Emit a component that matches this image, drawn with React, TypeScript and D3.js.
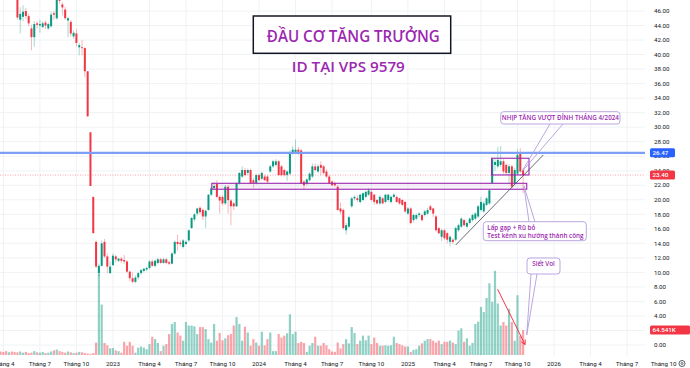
import React, { useEffect, useRef } from 'react';
import * as d3 from 'd3';

const W = 690, H = 368;
const PLOT_R = 645, PLOT_B = 356;

// weekly bars, first one = week of 28/03/2022. [open, high, low, close]
const candles: [number, number, number, number][] = [
  [52.0, 53.0, 50.2, 51.0], [51.0, 52.4, 49.6, 50.0], [50.0, 51.0, 48.6, 49.8], [49.8, 51.2, 48.8, 50.6],
  [50.6, 51.2, 48.6, 49.0], [49.0, 49.8, 48.2, 48.6],
  [48.5, 49.0, 44.8, 45.1], [44.8, 46.5, 42.9, 45.6], [45.2, 46.8, 44.6, 45.9], [46.0, 46.4, 44.9, 45.3],
  [45.3, 45.6, 43.9, 44.3], [43.6, 44.1, 40.6, 42.4], [42.4, 44.6, 41.1, 44.2], [44.3, 44.6, 43.6, 44.1],
  [44.0, 44.8, 43.0, 44.2], [43.8, 44.6, 43.6, 44.3], [44.4, 44.7, 43.5, 44.0], [43.6, 44.4, 43.4, 44.2],
  [43.9, 45.9, 43.7, 45.5], [45.7, 46.0, 44.8, 45.5], [45.0, 49.0, 44.8, 48.0], [48.0, 49.0, 47.0, 47.4],
  [46.9, 47.2, 45.4, 46.5], [46.2, 46.6, 44.8, 45.0], [44.7, 45.2, 42.4, 45.0], [44.5, 44.8, 42.5, 42.9],
  [42.5, 43.3, 42.2, 43.0], [42.9, 43.5, 41.1, 41.6], [41.0, 41.6, 39.9, 41.3], [41.0, 42.0, 39.9, 40.9],
  [40.9, 41.0, 36.9, 37.7], [37.7, 37.7, 31.4, 31.5], [29.3, 29.3, 21.9, 21.9], [20.4, 20.4, 15.4, 15.4],
  [14.2, 14.4, 10.6, 10.8], [9.9, 11.2, 9.4, 10.9], [10.9, 14.4, 10.8, 14.0], [14.2, 14.6, 12.0, 12.2],
  [12.2, 12.6, 9.9, 10.8], [9.9, 11.5, 9.8, 10.8], [11.0, 12.6, 10.9, 12.3], [12.2, 12.4, 11.4, 11.8],
  [11.6, 12.0, 11.4, 11.9], [11.9, 12.1, 11.3, 11.6], [11.7, 12.4, 11.2, 11.5], [11.5, 11.7, 9.9, 10.1],
  [10.1, 10.2, 8.8, 9.2], [9.2, 10.0, 8.5, 8.7], [8.7, 9.6, 8.5, 9.3], [9.3, 10.1, 9.0, 9.9],
  [9.9, 10.5, 9.7, 10.3], [10.2, 10.6, 10.0, 10.5], [10.4, 10.8, 10.2, 10.6], [10.6, 11.7, 10.4, 11.5],
  [11.5, 11.8, 10.8, 10.9], [10.9, 11.8, 10.7, 11.6], [11.3, 12.0, 11.1, 11.8], [11.8, 12.0, 11.2, 11.3],
  [11.3, 12.0, 11.2, 11.8], [11.8, 12.0, 11.1, 11.3], [11.4, 11.6, 11.0, 11.2], [11.2, 12.8, 11.1, 12.6],
  [12.6, 14.4, 12.4, 14.2], [14.2, 15.2, 13.0, 13.9], [14.1, 14.4, 13.6, 13.9], [13.5, 14.6, 13.3, 14.4],
  [13.9, 14.4, 13.7, 14.2], [14.4, 15.9, 14.2, 15.8], [16.1, 17.6, 16.0, 17.5], [17.3, 18.2, 17.0, 18.0],
  [18.1, 18.9, 17.8, 18.8], [18.9, 19.1, 18.0, 18.3], [18.6, 18.8, 17.2, 17.7], [17.7, 18.6, 16.1, 18.5],
  [18.6, 20.8, 18.5, 20.7], [20.7, 21.8, 20.5, 21.6], [21.6, 22.4, 21.3, 21.9], [22.2, 22.7, 20.2, 20.4],
  [20.4, 20.6, 18.1, 19.9], [20.4, 20.6, 19.2, 19.5], [19.5, 22.0, 19.3, 21.8], [21.8, 22.0, 18.1, 19.95],
  [19.9, 20.1, 16.5, 19.1], [19.5, 19.7, 18.6, 19.1], [19.1, 22.4, 19.0, 22.3], [22.3, 23.8, 22.1, 23.7],
  [23.2, 24.6, 23.0, 24.1], [24.1, 24.4, 23.2, 23.4], [23.7, 24.3, 23.4, 24.1], [24.1, 24.3, 22.2, 22.3],
  [22.7, 23.0, 21.6, 22.3], [22.3, 23.6, 22.1, 23.4], [23.4, 23.6, 22.6, 22.7], [22.9, 23.9, 22.7, 23.7],
  [23.2, 23.5, 22.6, 22.7], [23.2, 23.4, 22.3, 22.5], [23.9, 24.8, 23.7, 24.6], [24.6, 25.5, 24.4, 25.3],
  [24.8, 25.6, 24.6, 25.3], [25.3, 25.5, 23.3, 23.4], [24.6, 24.8, 23.2, 23.4], [24.1, 24.3, 23.2, 23.4],
  [23.4, 24.0, 22.6, 23.9], [23.6, 26.8, 23.4, 26.4], [26.4, 27.4, 26.2, 26.9], [26.5, 28.3, 26.3, 26.9],
  [26.9, 27.3, 26.2, 26.6], [26.8, 27.0, 22.2, 22.3], [22.5, 22.7, 21.4, 22.0], [22.2, 23.0, 22.0, 22.8],
  [22.7, 23.8, 22.5, 23.6], [23.2, 25.0, 23.0, 24.6], [24.6, 25.0, 23.9, 24.1], [23.9, 24.9, 23.7, 24.6],
  [24.8, 25.3, 23.4, 24.4], [24.6, 24.8, 23.5, 23.7], [23.9, 24.2, 23.0, 23.2], [23.2, 23.4, 22.2, 22.3],
  [22.5, 22.7, 21.9, 22.0], [22.3, 22.5, 21.8, 22.0], [21.8, 22.0, 18.5, 18.6], [18.8, 19.6, 18.0, 18.4],
  [18.6, 18.8, 15.9, 16.1], [15.8, 16.8, 15.2, 16.5], [16.3, 17.8, 16.1, 17.6], [19.1, 20.4, 18.9, 20.2],
  [20.2, 20.6, 19.9, 20.4], [20.2, 20.6, 19.7, 19.97], [19.7, 20.8, 19.5, 20.7], [19.97, 21.0, 19.8, 20.9],
  [20.4, 21.2, 20.2, 21.1], [20.7, 21.6, 20.5, 21.3], [21.1, 21.3, 19.8, 19.97], [20.7, 20.8, 19.3, 19.7],
  [19.97, 20.1, 19.3, 19.5], [19.5, 20.6, 19.3, 20.4], [20.2, 20.4, 19.4, 19.5], [19.7, 20.8, 19.5, 20.7],
  [19.97, 20.8, 19.7, 20.7], [19.7, 20.6, 19.5, 20.4], [20.4, 20.9, 20.2, 20.7], [20.4, 20.6, 19.6, 19.7],
  [20.2, 20.3, 19.3, 19.5], [19.97, 20.1, 19.1, 19.3], [19.7, 19.8, 18.2, 18.4], [18.1, 19.0, 17.9, 18.8],
  [18.8, 19.0, 16.6, 16.8], [17.2, 18.1, 16.9, 17.9], [17.4, 18.1, 17.2, 17.9], [17.9, 18.3, 17.6, 18.1],
  [17.9, 18.1, 17.0, 17.2], [17.9, 18.6, 17.7, 18.4], [18.1, 18.9, 17.9, 18.6], [19.1, 19.3, 18.4, 18.6],
  [18.8, 18.9, 17.6, 18.1], [17.7, 17.9, 15.6, 15.8], [16.1, 16.3, 15.2, 15.4], [14.9, 16.0, 14.3, 15.8],
  [15.8, 16.0, 14.5, 14.7], [15.4, 15.6, 14.0, 14.5], [14.2, 15.1, 13.6, 14.9], [14.5, 14.7, 13.9, 14.2],
  [14.5, 16.3, 14.3, 16.1], [15.8, 16.7, 15.6, 16.5], [16.3, 17.6, 16.1, 17.4], [17.2, 17.4, 16.3, 16.5],
  [16.3, 17.0, 16.1, 16.8], [16.8, 17.6, 16.6, 17.4], [17.2, 18.1, 17.0, 17.9], [17.4, 18.3, 17.2, 18.1],
  [17.7, 19.3, 17.5, 19.1], [18.6, 20.4, 18.4, 19.7], [18.4, 19.8, 18.2, 19.5], [19.3, 20.4, 19.1, 20.2],
  [19.5, 21.5, 19.3, 21.3], [22.3, 25.8, 22.2, 25.6], [24.8, 25.6, 24.0, 25.2], [24.6, 27.3, 24.3, 25.5],
  [24.8, 27.4, 24.5, 25.3], [25.3, 25.6, 23.6, 23.9], [24.8, 25.0, 23.5, 23.7], [23.7, 24.9, 22.3, 24.6],
  [24.6, 24.8, 21.6, 21.8], [22.3, 24.4, 22.0, 24.1], [23.6, 27.0, 23.4, 26.2], [26.4, 27.1, 23.7, 23.9],
  [24.1, 24.3, 20.9, 23.4],
];

// weekly volume, thousand shares
const volumes = [
  9, 8, 10, 7, 9, 8,
  7, 9, 6, 8, 5, 6, 10, 7, 6, 8, 5, 6, 9, 12, 14, 10, 8, 6, 9, 7, 5, 6, 8, 7, 5,
  4, 3, 5, 32, 210,
  130, 31, 25, 17, 18, 12, 10, 6, 34, 24,
  34, 24, 6, 19, 22, 19, 15, 28, 47, 41,
  31, 10, 24, 28,
  54, 80, 85, 58, 50, 37, 85, 76, 76, 74, 54, 72, 72, 67, 41, 32, 80, 37, 57, 38, 43, 51,
  54, 76, 98, 80, 37, 73, 58, 24, 41, 32, 24, 60, 25, 41, 58, 10, 10, 54, 45, 50, 56,
  105, 54, 60, 31, 34, 31, 8, 24, 31, 47, 24, 24, 31, 25, 15, 9, 8,
  32, 17, 28, 41, 30, 72, 57, 28, 37, 50, 38, 50, 28, 45, 31, 24, 24,
  25, 24, 25, 47, 31, 28, 25, 22, 22, 8, 13, 15, 24, 30, 37, 41, 41, 37, 32, 37, 28, 34, 34, 37, 32, 28,
  63, 69, 34, 43, 24, 31, 80, 86, 124, 111, 147, 185, 137, 217, 133, 76, 85, 76, 119, 85, 37, 154, 50, 64.5,
];

const priceTicks = [0, 2, 4, 6, 8, 10, 12, 14, 16, 18, 20, 22, 24, 26, 28, 30, 32, 34, 36, 38, 40, 42, 44, 46];
// [year, month (0-based), label]
const timeTicks: [number, number, string][] = [
  [2022, 3, 'Tháng 4'], [2022, 6, 'Tháng 7'], [2022, 9, 'Tháng 10'], [2023, 0, '2023'],
  [2023, 3, 'Tháng 4'], [2023, 6, 'Tháng 7'], [2023, 9, 'Tháng 10'], [2024, 0, '2024'],
  [2024, 3, 'Tháng 4'], [2024, 6, 'Tháng 7'], [2024, 9, 'Tháng 10'], [2025, 0, '2025'],
  [2025, 3, 'Tháng 4'], [2025, 6, 'Tháng 7'], [2025, 9, 'Tháng 10'], [2026, 0, '2026'],
  [2026, 3, 'Tháng 4'], [2026, 6, 'Tháng 7'], [2026, 9, 'Tháng 10'],
];
const resistance = 26.47;
const lastPrice = 23.4;
const lastVolumeLabel = '64.541K';

const UP = '#089981', DOWN = '#f23645', PURPLE = '#9c27b0', CALLOUT = '#b39ddb';
const FONT = "'Open Sans', 'Noto Sans', sans-serif";
const AXIS_FONT = "Roboto, 'Liberation Sans', sans-serif";

const App = () => {
  const ref = useRef<SVGSVGElement>(null);

  useEffect(() => {
    if (ref.current) drawChart(ref.current);
  }, []);

  const drawChart = (el: SVGSVGElement) => {
    const svg = d3.select(el);
    svg.selectAll('*').remove();

    const start = new Date(2022, 2, 28);
    const WEEK = 7 * 864e5;
    const x = d3.scaleLinear().domain([0, candles.length - 1]).range([0.56, 523.1]);
    const xDate = (d: Date) => x((d.getTime() - start.getTime()) / WEEK);
    const y = d3.scaleLinear().domain([0, 46]).range([345, 11]);
    const yVol = d3.scaleLinear().domain([0, 260]).range([355, 254.2]);

    svg.append('rect').attr('width', W).attr('height', H).attr('fill', '#fff');
    svg.append('defs').append('clipPath').attr('id', 'plotClip')
      .append('rect').attr('width', PLOT_R).attr('height', PLOT_B);

    const plot = svg.append('g').attr('clip-path', 'url(#plotClip)');

    // grid
    plot.selectAll('line.hgrid').data(priceTicks).enter().append('line')
      .attr('x1', 0).attr('x2', PLOT_R)
      .attr('y1', d => y(d)).attr('y2', d => y(d))
      .attr('stroke', '#f0f2f5').attr('stroke-width', 1);
    const tickX = timeTicks.map(([yr, m, label]) => ({ x: xDate(d3.timeMonday.ceil(new Date(yr, m, 1))), label }));
    plot.selectAll('line.vgrid').data(tickX).enter().append('line')
      .attr('x1', d => d.x).attr('x2', d => d.x)
      .attr('y1', 0).attr('y2', PLOT_B)
      .attr('stroke', '#f0f2f5').attr('stroke-width', 1);

    // volume
    plot.selectAll('rect.vol').data(volumes).enter().append('rect')
      .attr('x', (_, i) => x(i) - 1.1)
      .attr('width', 2.2)
      .attr('y', d => yVol(d))
      .attr('height', d => 355 - yVol(d))
      .attr('fill', (_, i) => (candles[i][3] >= candles[i][0] ? UP : DOWN))
      .attr('opacity', 0.45);

    // candles
    const g = plot.selectAll('g.candle').data(candles).enter().append('g');
    g.append('line')
      .attr('x1', (_, i) => x(i)).attr('x2', (_, i) => x(i))
      .attr('y1', d => y(d[1])).attr('y2', d => y(d[2]))
      .attr('stroke', d => (d[3] >= d[0] ? UP : DOWN))
      .attr('stroke-width', 0.8).attr('opacity', 0.45);
    g.append('rect')
      .attr('x', (_, i) => x(i) - 1)
      .attr('width', 2)
      .attr('y', d => y(Math.max(d[0], d[3])))
      .attr('height', d => Math.max(0.8, Math.abs(y(d[0]) - y(d[3]))))
      .attr('fill', d => (d[3] >= d[0] ? UP : DOWN));

    // horizontal levels
    plot.append('line').attr('x1', 0).attr('x2', PLOT_R)
      .attr('y1', y(lastPrice)).attr('y2', y(lastPrice))
      .attr('stroke', DOWN).attr('stroke-opacity', 0.45).attr('stroke-dasharray', '1,1.5');
    plot.append('line').attr('x1', 0).attr('x2', PLOT_R)
      .attr('y1', y(resistance)).attr('y2', y(resistance))
      .attr('stroke', '#7c9ef5').attr('stroke-width', 2.2);

    // support zone and consolidation box
    plot.append('rect')
      .attr('x', x(75.2)).attr('width', x(187.3) - x(75.2))
      .attr('y', y(22.27)).attr('height', y(21.45) - y(22.27))
      .attr('fill', PURPLE).attr('fill-opacity', 0.06)
      .attr('stroke', PURPLE).attr('stroke-width', 1.1);
    plot.append('rect')
      .attr('x', x(174.8)).attr('width', x(188.1) - x(174.8))
      .attr('y', y(25.72)).attr('height', y(23.42) - y(25.72))
      .attr('fill', 'none').attr('stroke', PURPLE).attr('stroke-width', 1.1);

    // trend line
    plot.append('line')
      .attr('x1', x(162)).attr('y1', y(13.77))
      .attr('x2', x(193.2)).attr('y2', y(26.17))
      .attr('stroke', '#434651').attr('stroke-width', 0.8);

    // callouts
    const callout = (pts: [number, number][], rx: number, ry: number, rw: number, rh: number, lines: string[], anchor: string) => {
      plot.append('path')
        .attr('d', `M${pts[0][0]},${pts[0][1]}L${pts[1][0]},${pts[1][1]}L${pts[2][0]},${pts[2][1]}`)
        .attr('fill', 'none').attr('stroke', CALLOUT).attr('stroke-width', 0.9);
      plot.append('rect').attr('x', rx).attr('y', ry).attr('width', rw).attr('height', rh)
        .attr('rx', 3).attr('fill', '#fff').attr('stroke', CALLOUT).attr('stroke-width', 0.9);
      lines.forEach((t, i) => {
        plot.append('text')
          .attr('x', anchor === 'middle' ? rx + rw / 2 : rx + 4)
          .attr('y', ry + 8.3 + i * 8)
          .attr('text-anchor', anchor)
          .attr('font-family', FONT).attr('font-size', 6.3).attr('font-weight', 600)
          .attr('fill', PURPLE).text(t);
      });
    };
    callout([[550, 124], [x(185.6), y(23.9)], [563, 124]], 500.7, 111.7, 119.3, 12.3,
      ['NHỊP TĂNG VƯỢT ĐỈNH THÁNG 4/2024'], 'middle');
    callout([[529, 222], [x(186.3), y(21.9)], [535, 222]], 483.3, 221.7, 103, 19,
      ['Lấp gạp + Rũ bỏ', 'Test kênh xu hướng thành công'], 'start');
    callout([[531, 274], [x(187.3), yVol(52)], [537, 274]], 527, 258, 33, 16,
      ['Siết Vol'], 'middle');

    // red arrow on volume
    const a0: [number, number] = [x(176.9), yVol(170)];
    const a1: [number, number] = [x(186.7), yVol(27)];
    const ang = Math.atan2(a1[1] - a0[1], a1[0] - a0[0]);
    const head = (da: number) => [a1[0] - 5 * Math.cos(ang + da), a1[1] - 5 * Math.sin(ang + da)];
    const h1 = head(0.5), h2 = head(-0.5);
    plot.append('path')
      .attr('d', `M${a0[0]},${a0[1]}L${a1[0]},${a1[1]}M${h1[0]},${h1[1]}L${a1[0]},${a1[1]}L${h2[0]},${h2[1]}`)
      .attr('fill', 'none').attr('stroke', DOWN).attr('stroke-width', 1);

    // title
    svg.append('rect').attr('x', 253.3).attr('y', 16).attr('width', 197.4).attr('height', 37.3)
      .attr('fill', '#fff').attr('stroke', '#131722').attr('stroke-width', 1.5);
    svg.append('text').attr('x', 353.3).attr('y', 41.5).attr('text-anchor', 'middle')
      .attr('font-family', FONT).attr('font-size', 16).attr('font-weight', 600)
      .attr('textLength', 173).attr('lengthAdjust', 'spacingAndGlyphs')
      .attr('fill', PURPLE).text('ĐẦU CƠ TĂNG TRƯỞNG');
    svg.append('text').attr('x', 348.3).attr('y', 71.5).attr('text-anchor', 'middle')
      .attr('font-family', FONT).attr('font-size', 15).attr('font-weight', 600)
      .attr('textLength', 113).attr('lengthAdjust', 'spacingAndGlyphs')
      .attr('fill', PURPLE).text('ID TẠI VPS 9579');

    // price axis
    svg.selectAll('text.ptick').data(priceTicks).enter().append('text')
      .attr('x', 654).attr('y', d => y(d) + 2.2)
      .attr('font-family', AXIS_FONT).attr('font-size', 6.2).attr('fill', '#131722')
      .text(d => d.toFixed(2));

    const badge = (cy: number, label: string, color: string, w: number) => {
      svg.append('rect').attr('x', 650).attr('y', cy - 4.5).attr('width', w).attr('height', 9)
        .attr('rx', 1.5).attr('fill', color);
      svg.append('text').attr('x', 652.5).attr('y', cy + 2.2)
        .attr('font-family', AXIS_FONT).attr('font-size', 6.2).attr('font-weight', 500)
        .attr('fill', '#fff').text(label);
    };
    badge(y(resistance), resistance.toFixed(2), '#2962ff', 25);
    badge(y(lastPrice), lastPrice.toFixed(2), DOWN, 25);
    badge(yVol(volumes[volumes.length - 1]), lastVolumeLabel, DOWN, 40);

    // time axis
    svg.selectAll('text.ttick').data(tickX).enter().append('text')
      .attr('x', d => d.x).attr('y', 366)
      .attr('text-anchor', 'middle')
      .attr('font-family', AXIS_FONT).attr('font-size', 6.2).attr('fill', '#131722')
      .text(d => d.label);

    // settings icon
    svg.append('circle').attr('cx', 682).attr('cy', 363.5).attr('r', 3)
      .attr('fill', '#fff').attr('stroke', '#131722').attr('stroke-width', 0.7);
    svg.append('circle').attr('cx', 682).attr('cy', 363.5).attr('r', 1)
      .attr('fill', 'none').attr('stroke', '#131722').attr('stroke-width', 0.6);
  };

  return (
    <svg ref={ref} width={W} height={H} style={{ position: 'absolute', left: 0, top: 0 }}></svg>
  );
};

export default App;
